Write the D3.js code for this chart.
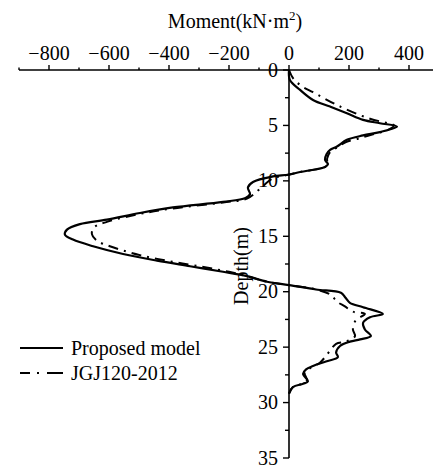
<!DOCTYPE html>
<html><head><meta charset="utf-8">
<script src="https://cdn.jsdelivr.net/npm/d3@7"></script>
<style>body{margin:0;background:#fff}svg{display:block}</style>
</head><body><svg id="c" width="433" height="468" font-family="'Liberation Serif', 'DejaVu Serif', serif"></svg>
<script>
// Data: [moment (kN·m²), depth (m)]
const proposedModel = [[0,0],[3,0.9],[37,1.8],[80,2.7],[137,3.3],[193,3.9],[247,4.5],[303,4.8],[360,5.1],[303,5.6],[247,5.9],[193,6.3],[160,6.9],[137,7.2],[125,7.6],[120,8.1],[130,8.5],[120,8.75],[37,9.2],[-3,9.45],[-53,9.6],[-120,10.1],[-137,10.6],[-130,11.2],[-145,11.55],[-220,11.9],[-387,12.4],[-497,12.9],[-607,13.5],[-697,13.9],[-740,14.4],[-747,14.85],[-720,15.3],[-653,15.9],[-553,16.6],[-440,17.2],[-330,17.7],[-220,18.2],[-140,18.6],[-73,19.1],[0,19.4],[90,19.8],[173,20.1],[187,20.5],[203,21.0],[247,21.4],[313,22.0],[270,22.3],[247,22.8],[253,23.4],[273,24.0],[237,24.3],[203,24.5],[170,24.9],[157,25.5],[163,25.9],[123,26.3],[80,26.7],[57,27.0],[47,27.4],[63,28.1],[47,28.3],[13,28.6],[0,29.2]];
const jgj = [[0,0],[15,0.8],[45,1.5],[80,2.0],[163,3.2],[270,4.4],[330,4.8],[350,5.0],[330,5.4],[280,5.8],[230,6.2],[190,6.5],[160,7.0],[137,7.4],[127,8.0],[128,8.6],[100,8.9],[37,9.2],[-3,9.45],[-55,9.8],[-100,10.8],[-140,11.6],[-220,11.95],[-390,12.5],[-500,13.0],[-607,13.7],[-650,14.2],[-657,14.8],[-640,15.4],[-597,15.9],[-497,16.7],[-387,17.3],[-280,17.8],[-200,18.2],[-140,18.6],[-73,19.1],[0,19.4],[90,19.8],[140,20.3],[160,20.9],[185,21.3],[213,21.8],[253,22.0],[222,22.6],[213,23.4],[220,24.0],[190,24.5],[157,24.7],[140,25.2],[123,25.8],[103,26.4],[70,26.9],[52,27.3],[60,28.0],[45,28.3],[13,28.6],[0,29.2]];
const xMajorTicks = [-800,-600,-400,-200,0,200,400];
const xMinorTicks = [-900,-700,-500,-300,-100,100,300,500];
const yMajorTicks = [0,5,10,15,20,25,30,35];
const yMinorTicks = [2.5,7.5,12.5,17.5,22.5,27.5,32.5];
const seriesNames = ["Proposed model","JGJ120-2012"];

const svg = d3.select("#c");
const x = d3.scaleLinear().domain([-900,480]).range([19,433]);
const y = d3.scaleLinear().domain([0,35]).range([70,458]);
const FS = 20;

// top x axis
const gx = svg.append("g").attr("transform",`translate(0,${y(0)})`);
gx.append("line").attr("x1",x(-900)).attr("x2",433).attr("stroke","#000").attr("stroke-width",1.6);
gx.selectAll(".mj").data(xMajorTicks).join("line").attr("x1",d=>x(d)).attr("x2",d=>x(d)).attr("y1",0).attr("y2",-5).attr("stroke","#000").attr("stroke-width",1.4);
gx.selectAll(".mn").data(xMinorTicks).join("line").attr("x1",d=>x(d)).attr("x2",d=>x(d)).attr("y1",0).attr("y2",-2.5).attr("stroke","#000").attr("stroke-width",1.4);
gx.selectAll(".tl").data(xMajorTicks).join("text").attr("x",d=>x(d)).attr("y",-10).attr("text-anchor","middle").attr("font-size",FS)
  .text(d=>d<0?"\u2212"+Math.abs(d):d);

// y axis
const gy = svg.append("g").attr("transform",`translate(${x(0)},0)`);
gy.append("line").attr("y1",y(0)).attr("y2",y(35)).attr("stroke","#000").attr("stroke-width",1.6);
gy.selectAll(".mj").data(yMajorTicks).join("line").attr("y1",d=>y(d)).attr("y2",d=>y(d)).attr("x1",0).attr("x2",-6).attr("stroke","#000").attr("stroke-width",1.4);
gy.selectAll(".mn").data(yMinorTicks).join("line").attr("y1",d=>y(d)).attr("y2",d=>y(d)).attr("x1",0).attr("x2",-4).attr("stroke","#000").attr("stroke-width",1.4);
gy.selectAll(".tl").data(yMajorTicks).join("text").attr("x",-11).attr("y",d=>y(d)).attr("dy","0.33em").attr("text-anchor","end").attr("font-size",FS).text(d=>d);

// titles
const tt = svg.append("text").attr("x",235).attr("y",28).attr("text-anchor","middle").attr("font-size",FS);
tt.append("tspan").text("Moment(kN\u00B7m");
tt.append("tspan").attr("font-size",13).attr("dy",-8).text("2");
tt.append("tspan").attr("dy",8).text(")");
svg.append("text").attr("transform","translate(248,266) rotate(-90)").attr("text-anchor","middle").attr("font-size",FS).text("Depth(m)");

// curves
const line = d3.line().x(d=>x(d[0])).y(d=>y(d[1])).curve(d3.curveCatmullRom.alpha(0.5));
svg.append("path").datum(jgj).attr("d",line).attr("fill","none").attr("stroke","#000").attr("stroke-width",2).attr("stroke-dasharray","10,6,2,6");
svg.append("path").datum(proposedModel).attr("d",line).attr("fill","none").attr("stroke","#000").attr("stroke-width",2.2);

// legend
const lg = svg.append("g");
[0,1].forEach(i=>{
  const ly = 348 + i*25;
  lg.append("line").attr("x1",20).attr("x2",63).attr("y1",ly).attr("y2",ly).attr("stroke","#000").attr("stroke-width",2.2)
    .attr("stroke-dasharray", i===1 ? "10,7,2,8,16" : null);
  lg.append("text").attr("x",71).attr("y",ly).attr("dy","0.33em").attr("font-size",FS).text(seriesNames[i]);
});
</script></body></html>
